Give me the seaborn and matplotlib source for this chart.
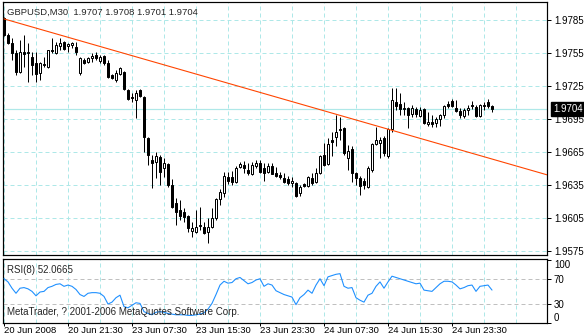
import numpy as np
import matplotlib
matplotlib.use("Agg")
import matplotlib.pyplot as plt
import seaborn as sns

# ---------------- data ----------------
symbol = "GBPUSD,M30"

opens = [1.9787, 1.9771, 1.9764, 1.9755, 1.9738, 1.9756, 1.9755, 1.9751, 1.9746, 1.9737,
         1.9745, 1.9742, 1.9758, 1.9755, 1.9761, 1.9765, 1.9761, 1.9762, 1.9760, 1.9737,
         1.9749, 1.9747, 1.9750, 1.9753, 1.9748, 1.9752, 1.9746, 1.9735, 1.9730, 1.9736,
         1.9738, 1.9721, 1.9715, 1.9712, 1.9721, 1.9715, 1.9678, 1.9658, 1.9656, 1.9660,
         1.9650, 1.9654, 1.9635, 1.9619, 1.9612, 1.9610, 1.9607, 1.9593, 1.9592, 1.9598,
         1.9597, 1.9592, 1.9597, 1.9605, 1.9622, 1.9628, 1.9642, 1.9642, 1.9638, 1.9651,
         1.9653, 1.9649, 1.9645, 1.9652, 1.9655, 1.9650, 1.9647, 1.9652, 1.9646, 1.9644,
         1.9641, 1.9640, 1.9637, 1.9637, 1.9628, 1.9636, 1.9634, 1.9641, 1.9638, 1.9646,
         1.9662, 1.9654, 1.9676, 1.9679, 1.9685, 1.9687, 1.9660, 1.9668, 1.9646, 1.9641,
         1.9639, 1.9633, 1.9649, 1.9672, 1.9673, 1.9678, 1.9661, 1.9686, 1.9710, 1.9709,
         1.9704, 1.9705, 1.9700, 1.9704, 1.9698, 1.9704, 1.9690, 1.9692, 1.9691, 1.9695,
         1.9699, 1.9709, 1.9711, 1.9705, 1.9702, 1.9698, 1.9703, 1.9708, 1.9706, 1.9698,
         1.9708, 1.9710, 1.9707]

highs = [1.9788, 1.9773, 1.9769, 1.9758, 1.9767, 1.9771, 1.9764, 1.9756, 1.9756, 1.9747,
         1.9751, 1.9758, 1.9769, 1.9765, 1.9769, 1.9766, 1.9764, 1.9765, 1.9765, 1.9751,
         1.9750, 1.9751, 1.9755, 1.9756, 1.9753, 1.9753, 1.9749, 1.9736, 1.9740, 1.9742,
         1.9739, 1.9722, 1.9719, 1.9721, 1.9722, 1.9716, 1.9679, 1.9662, 1.9665, 1.9662,
         1.9660, 1.9655, 1.9640, 1.9623, 1.9621, 1.9614, 1.9608, 1.9601, 1.9612, 1.9615,
         1.9601, 1.9605, 1.9614, 1.9623, 1.9631, 1.9647, 1.9647, 1.9648, 1.9652, 1.9656,
         1.9657, 1.9655, 1.9656, 1.9658, 1.9658, 1.9655, 1.9655, 1.9655, 1.9651, 1.9647,
         1.9646, 1.9643, 1.9642, 1.9638, 1.9635, 1.9637, 1.9643, 1.9646, 1.9650, 1.9662,
         1.9673, 1.9678, 1.9683, 1.9699, 1.9697, 1.9688, 1.9671, 1.9670, 1.9647, 1.9643,
         1.9641, 1.9652, 1.9673, 1.9688, 1.9679, 1.9680, 1.9687, 1.9723, 1.9723, 1.9719,
         1.9710, 1.9706, 1.9708, 1.9706, 1.9706, 1.9705, 1.9701, 1.9699, 1.9697, 1.9700,
         1.9708, 1.9711, 1.9713, 1.9712, 1.9705, 1.9705, 1.9708, 1.9711, 1.9708, 1.9709,
         1.9710, 1.9713, 1.9708]

lows = [1.9770, 1.9763, 1.9749, 1.9735, 1.9737, 1.9742, 1.9729, 1.9735, 1.9729, 1.9730,
        1.9742, 1.9741, 1.9755, 1.9754, 1.9758, 1.9758, 1.9756, 1.9760, 1.9753, 1.9735,
        1.9745, 1.9746, 1.9747, 1.9749, 1.9746, 1.9744, 1.9732, 1.9731, 1.9729, 1.9735,
        1.9721, 1.9712, 1.9710, 1.9696, 1.9715, 1.9665, 1.9653, 1.9632, 1.9641, 1.9635,
        1.9642, 1.9633, 1.9614, 1.9599, 1.9603, 1.9601, 1.9592, 1.9588, 1.9591, 1.9594,
        1.9590, 1.9582, 1.9596, 1.9603, 1.9617, 1.9624, 1.9636, 1.9635, 1.9637, 1.9650,
        1.9646, 1.9644, 1.9644, 1.9650, 1.9646, 1.9639, 1.9646, 1.9646, 1.9642, 1.9640,
        1.9637, 1.9635, 1.9633, 1.9624, 1.9625, 1.9633, 1.9633, 1.9635, 1.9637, 1.9645,
        1.9652, 1.9653, 1.9661, 1.9670, 1.9676, 1.9662, 1.9649, 1.9638, 1.9635, 1.9626,
        1.9631, 1.9632, 1.9647, 1.9671, 1.9660, 1.9661, 1.9660, 1.9683, 1.9703, 1.9699,
        1.9699, 1.9687, 1.9697, 1.9697, 1.9697, 1.9690, 1.9689, 1.9688, 1.9688, 1.9689,
        1.9696, 1.9705, 1.9706, 1.9701, 1.9696, 1.9696, 1.9699, 1.9704, 1.9697, 1.9697,
        1.9703, 1.9705, 1.9701]

closes = [1.9771, 1.9764, 1.9755, 1.9738, 1.9756, 1.9754, 1.9756, 1.9744, 1.9736, 1.9746,
          1.9744, 1.9758, 1.9757, 1.9762, 1.9764, 1.9759, 1.9763, 1.9764, 1.9756, 1.9750,
          1.9746, 1.9750, 1.9752, 1.9750, 1.9751, 1.9746, 1.9733, 1.9732, 1.9737, 1.9741,
          1.9722, 1.9713, 1.9714, 1.9719, 1.9716, 1.9679, 1.9662, 1.9655, 1.9661, 1.9647,
          1.9655, 1.9635, 1.9615, 1.9610, 1.9607, 1.9606, 1.9596, 1.9596, 1.9597, 1.9599,
          1.9591, 1.9597, 1.9605, 1.9622, 1.9629, 1.9643, 1.9639, 1.9638, 1.9650, 1.9654,
          1.9650, 1.9646, 1.9653, 1.9655, 1.9647, 1.9646, 1.9652, 1.9645, 1.9643, 1.9642,
          1.9638, 1.9637, 1.9639, 1.9625, 1.9633, 1.9634, 1.9642, 1.9637, 1.9646, 1.9661,
          1.9653, 1.9672, 1.9674, 1.9683, 1.9686, 1.9664, 1.9666, 1.9646, 1.9641, 1.9634,
          1.9635, 1.9650, 1.9672, 1.9676, 1.9676, 1.9664, 1.9686, 1.9712, 1.9707, 1.9704,
          1.9705, 1.9699, 1.9705, 1.9700, 1.9703, 1.9691, 1.9692, 1.9690, 1.9695, 1.9699,
          1.9707, 1.9707, 1.9707, 1.9702, 1.9699, 1.9703, 1.9705, 1.9707, 1.9698, 1.9708,
          1.9707, 1.9707, 1.9704]

rsi_values = [70, 65, 55, 47, 55, 56, 54, 50, 43, 49,
              50, 56, 58, 61, 62, 58, 60, 58, 53, 45,
              42, 47, 48, 48, 47, 42, 30, 33, 40, 44,
              26, 24, 28, 32, 31, 18, 15, 13, 17, 18,
              17, 15, 14, 13, 13, 13, 12, 12, 13, 14,
              16, 22, 31, 45, 60, 66, 63, 64, 70, 72,
              67, 62, 64, 68, 70, 58, 62, 60, 51, 48,
              45, 43, 41, 29, 40, 45, 52, 47, 60, 70,
              59, 73, 75, 77, 78, 58, 55, 56, 40, 36,
              33, 44, 47, 58, 65, 55, 65, 74, 72, 70,
              68, 66, 64, 62, 63, 52, 51, 50, 56, 62,
              66, 66, 65, 60, 54, 56, 59, 60, 50, 58,
              59, 60, 52.0665]

time_labels = ["20 Jun 2008", "20 Jun 21:30", "23 Jun 07:30", "23 Jun 15:30",
               "23 Jun 23:30", "24 Jun 07:30", "24 Jun 15:30", "24 Jun 23:30"]
time_label_bars = [0, 16, 32, 48, 64, 80, 96, 112]
price_ticks = [1.9785, 1.9755, 1.9725, 1.9695, 1.9665, 1.9635, 1.9605, 1.9575]
rsi_ticks = [100, 70, 30, 0]
rsi_levels = [70, 30]
trend_bars = [0, 136]
trend_prices = [1.9786, 1.9644]
bid = 1.9704
rsi_period = 8
copyright_text = "MetaTrader, ? 2001-2006 MetaQuotes Software Corp."

# ---------------- style ----------------
sns.set_style("white")
plt.rcParams["font.family"] = ["Liberation Sans", "DejaVu Sans"]
plt.rcParams["font.size"] = 7

W, H = 584, 336
fig = plt.figure(figsize=(W / 100, H / 100), dpi=100)
fig.patch.set_facecolor("white")


def frac(x0, y0, x1, y1):
    return [x0 / W, 1 - y1 / H, (x1 - x0) / W, (y1 - y0) / H]


ax = fig.add_axes(frac(3, 2, 547, 255))
ax2 = fig.add_axes(frac(3, 259, 547, 323))

GRID = "#aee8e8"
PX = 0.72  # one pixel in points
XMIN, XMAX = -0.25, 135.75

bars = np.arange(len(closes))
o = np.array(opens)
h = np.array(highs)
l = np.array(lows)
c = np.array(closes)
bull = c > o
bear = ~bull
body_lo = np.minimum(o, c)
body_h = np.abs(c - o)

for a in (ax, ax2):
    a.set_facecolor("white")
    a.set_xlim(XMIN, XMAX)
    for k in range(0, 137, 8):
        a.axvline(k, color=GRID, lw=PX, ls=(0, (4, 3)), zorder=0)
    for s in a.spines.values():
        s.set_visible(True)
        s.set_color("black")
        s.set_linewidth(PX * 1.2)

# ---- main price panel ----
ax.set_ylim(1.9785 - 235 / 11000, 1.9785 + 18 / 11000)
for p in price_ticks:
    ax.axhline(p, color=GRID, lw=PX, ls=(0, (4, 3)), zorder=0)
ax.axhline(bid, color=GRID, lw=PX * 1.2, zorder=0.5)

ax.vlines(bars, l, h, color="black", lw=PX, zorder=2)
ax.bar(bars[bull], body_h[bull], bottom=body_lo[bull], width=0.55,
       color="white", edgecolor="black", linewidth=PX, zorder=3)
ax.bar(bars[bear], np.maximum(body_h[bear], 0.00001), bottom=body_lo[bear], width=0.55,
       color="black", edgecolor="black", linewidth=PX, zorder=3)

sns.lineplot(x=trend_bars, y=trend_prices, ax=ax, color="#FF4500", lw=PX * 1.1, zorder=4)

ax.yaxis.tick_right()
ax.set_yticks(price_ticks)
ax.set_yticklabels([f"{p:.4f}" for p in price_ticks])
ax.tick_params(axis="y", right=True, left=False, length=3, width=PX, pad=2,
               labelsize=7, colors="black", direction="out")
ax.tick_params(axis="x", bottom=False, labelbottom=False)
ax.set_xlabel("")
ax.set_ylabel("")

header = f"{symbol}  {opens[-1]:.4f} {highs[-1]:.4f} {lows[-1]:.4f} {closes[-1]:.4f}"
ax.annotate(header, xy=(0, 1), xycoords="axes fraction", xytext=(4, -13),
            textcoords="offset pixels", va="baseline", ha="left", fontsize=6.8, zorder=6)

ax.annotate(f"{bid:.4f}", xy=(1, bid), xycoords=("axes fraction", "data"),
            xytext=(6, 0), textcoords="offset pixels", va="center", ha="left",
            color="white", fontsize=7, annotation_clip=False, zorder=10,
            bbox=dict(boxstyle="square,pad=0.18", fc="black", ec="black"))

# ---- RSI panel ----
ax2.set_ylim(0.8, 101.2)
for lv in rsi_levels:
    ax2.axhline(lv, color="#c0c0c0", lw=PX, ls=(0, (4, 3)), zorder=0.5)
sns.lineplot(x=bars, y=rsi_values, ax=ax2, color="#1E90FF", lw=PX * 1.1, zorder=3)

ax2.yaxis.tick_right()
ax2.set_yticks(rsi_ticks)
ax2.set_yticklabels([str(t) for t in rsi_ticks])
ax2.tick_params(axis="y", right=True, left=False, length=3, width=PX, pad=2,
                labelsize=7, colors="black", direction="out")
ylabs = ax2.get_yticklabels()
ylabs[0].set_va("top")
ylabs[-1].set_va("bottom")

ax2.set_xticks(time_label_bars)
ax2.set_xticklabels(time_labels, ha="left")
ax2.tick_params(axis="x", bottom=True, length=2, width=PX, pad=0.3,
                labelsize=6.8, colors="black", direction="out")
ax2.set_xlabel("")
ax2.set_ylabel("")

ax2.annotate(f"RSI({rsi_period}) {rsi_values[-1]:.4f}", xy=(0, 1), xycoords="axes fraction",
             xytext=(4, -14), textcoords="offset pixels", va="baseline", ha="left",
             fontsize=7, zorder=6)
ax2.annotate(copyright_text, xy=(0, 0), xycoords="axes fraction",
             xytext=(4, 8), textcoords="offset pixels", va="baseline", ha="left",
             fontsize=7, zorder=6)

fig.savefig("out.png", dpi=100, facecolor="white")
